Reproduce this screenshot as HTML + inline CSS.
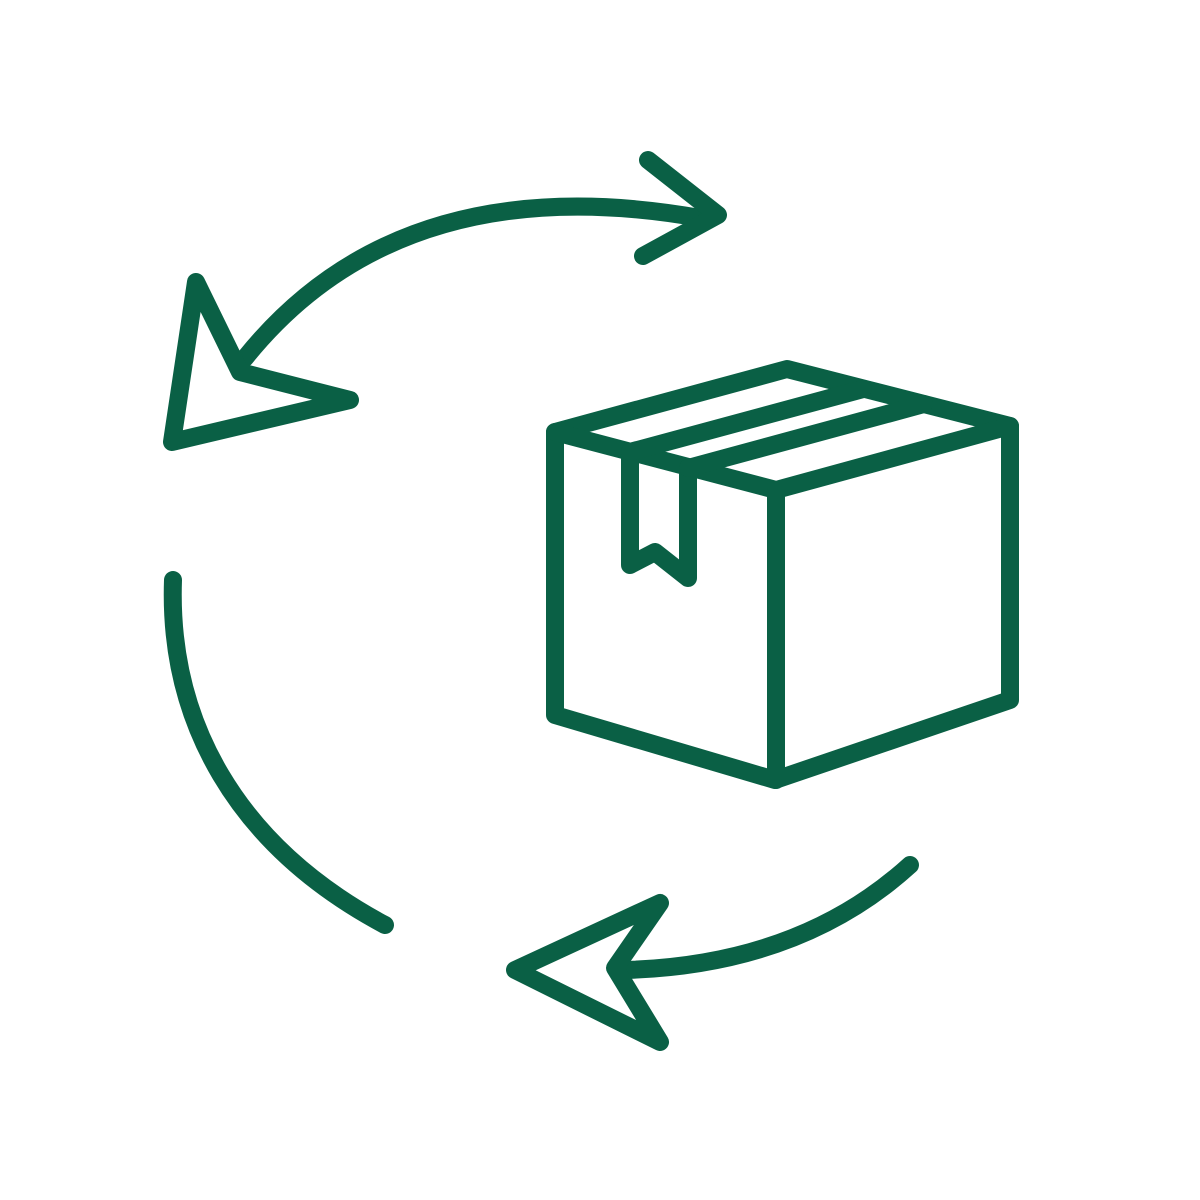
<!DOCTYPE html>
<html><head><style>html,body{margin:0;padding:0;background:#fff;width:1200px;height:1200px;overflow:hidden}</style></head>
<body>
<svg width="1200" height="1200" viewBox="0 0 1200 1200" xmlns="http://www.w3.org/2000/svg">
<g fill="none" stroke="#0a6045" stroke-width="18" stroke-linecap="round" stroke-linejoin="round">
<path d="M245,358 Q400,165 700,218"/>
<polyline points="648,160 718,215 643,256"/>
<polygon points="240,372 196,282 172,442 350,400"/>
<path d="M173,580 C168,720 235,845 385,925"/>
<path d="M910,865 Q800,965 625,970"/>
<polygon points="615,968 660,903 515,970 660,1042"/>
<polygon points="555,432 787,369 1010,426 1010,700 775,780 555,715"/>
<polyline points="555,432 776,490 1010,426"/>
<line x1="776" y1="490" x2="776" y2="780"/>
<path d="M630,452 L630,565 L655,552 L688,578 L688,468"/>
<line x1="630" y1="452" x2="863" y2="389"/>
<line x1="688" y1="468" x2="924" y2="404"/>
</g>
</svg>
</body></html>
